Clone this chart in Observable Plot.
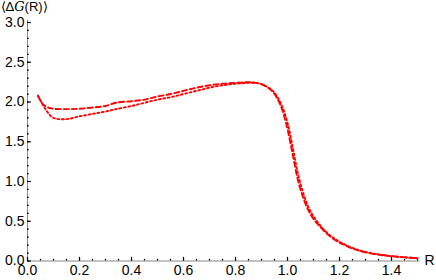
<!DOCTYPE html>
<html><head><meta charset="utf-8">
<script src="https://cdn.jsdelivr.net/npm/d3@7"></script>
<script src="https://cdn.jsdelivr.net/npm/@observablehq/plot@0.6"></script>
<style>body{margin:0;background:#fff}</style>
</head><body><div id="chart"></div>
<script>
const rA = [0.04,0.06,0.08,0.10,0.15,0.20,0.25,0.30,0.34,0.40,0.45,0.50,0.55,0.60,0.65,0.70,0.75,0.80,0.85,0.88,0.91,0.94,0.96,0.98,1.00,1.02,1.04,1.06,1.08,1.10,1.14,1.18,1.22,1.26,1.30,1.35,1.40,1.45,1.50];
const dashedVals = [2.08,1.97,1.93,1.915,1.91,1.915,1.93,1.95,1.99,2.01,2.03,2.07,2.10,2.14,2.18,2.21,2.23,2.24,2.25,2.24,2.21,2.14,2.05,1.90,1.66,1.34,1.02,0.80,0.64,0.53,0.38,0.27,0.20,0.145,0.11,0.08,0.06,0.045,0.035];
const dottedVals = [2.08,1.96,1.86,1.80,1.785,1.82,1.85,1.88,1.91,1.95,1.99,2.03,2.06,2.10,2.14,2.18,2.21,2.23,2.24,2.24,2.21,2.15,2.07,1.94,1.74,1.43,1.10,0.86,0.68,0.56,0.395,0.283,0.208,0.151,0.114,0.083,0.062,0.047,0.036];
const xMajor = [0,0.2,0.4,0.6,0.8,1.0,1.2,1.4];
const xMinor = d3.range(0,1.5001,0.05);
const yMajor = [0,0.5,1.0,1.5,2.0,2.5,3.0];
const yMinor = d3.range(0,3.0001,0.1);
const yLabel = "⟨ΔG(R)⟩";
const xLabel = "R";

const dashed = rA.map((r,i)=>({r, v: dashedVals[i]}));
const dotted = rA.map((r,i)=>({r, v: dottedVals[i]}));

const font = "Liberation Sans, Arial, sans-serif";
const chart = Plot.plot({
  width: 436, height: 280,
  marginLeft: 27, marginRight: 19, marginTop: 22, marginBottom: 19.5,
  style: {fontFamily: font, fontSize: "14px", background: "#fff", overflow: "visible"},
  x: {domain: [0,1.5]},
  y: {domain: [0,3]},
  marks: [
    Plot.ruleY([0], {x1: 0, x2: 1.51, stroke: "#888", strokeWidth: 1}),
    Plot.ruleX([0], {y1: 0, y2: 3.03, stroke: "#888", strokeWidth: 1}),
    Plot.ruleX(xMinor, {x: d=>d, y1: 0, y2: 0.02, stroke: "#000", strokeWidth: 1.2}),
    Plot.ruleX(xMajor, {x: d=>d, y1: 0, y2: 0.045, stroke: "#000", strokeWidth: 1.2}),
    Plot.ruleY(yMinor, {y: d=>d, x1: 0, x2: 0.007, stroke: "#000", strokeWidth: 1.2}),
    Plot.ruleY(yMajor, {y: d=>d, x1: 0, x2: 0.015, stroke: "#000", strokeWidth: 1.2}),
    Plot.axisX({ticks: xMajor, tickSize: 0, tickPadding: 4, tickFormat: d3.format(".1f"), label: null, fontSize: 14, fill: "#000"}),
    Plot.axisY({ticks: yMajor, tickSize: 0, tickPadding: 3, tickFormat: d3.format(".1f"), label: null, fontSize: 14, fill: "#000"}),
    Plot.line(dotted, {x: "r", y: "v", stroke: "#f00", strokeWidth: 1.9, strokeDasharray: "2,2.5", curve: "catmull-rom"}),
    Plot.line(dashed, {x: "r", y: "v", stroke: "#f00", strokeWidth: 1.9, strokeDasharray: "5,3", curve: "catmull-rom"}),
    Plot.text([yLabel], {frameAnchor: "top-left", dx: -27, dy: -20.5, textAnchor: "start", lineAnchor: "top", fontSize: 13, fill: "#000", className: "ylab"}),
    Plot.text([xLabel], {x: () => 1.5, y: () => 0, dx: 7, textAnchor: "start", fontSize: 14, fill: "#000"})
  ]
});
document.getElementById("chart").appendChild(chart);
// italic script G in the axis label
d3.select(chart).selectAll(".ylab text").each(function(){
  const t = d3.select(this);
  t.text(null);
  t.append("tspan").text("⟨Δ");
  t.append("tspan").attr("font-style","italic").attr("font-family","DejaVu Serif, serif").text("G");
  t.append("tspan").text("(R)⟩");
});
</script>
</body></html>
